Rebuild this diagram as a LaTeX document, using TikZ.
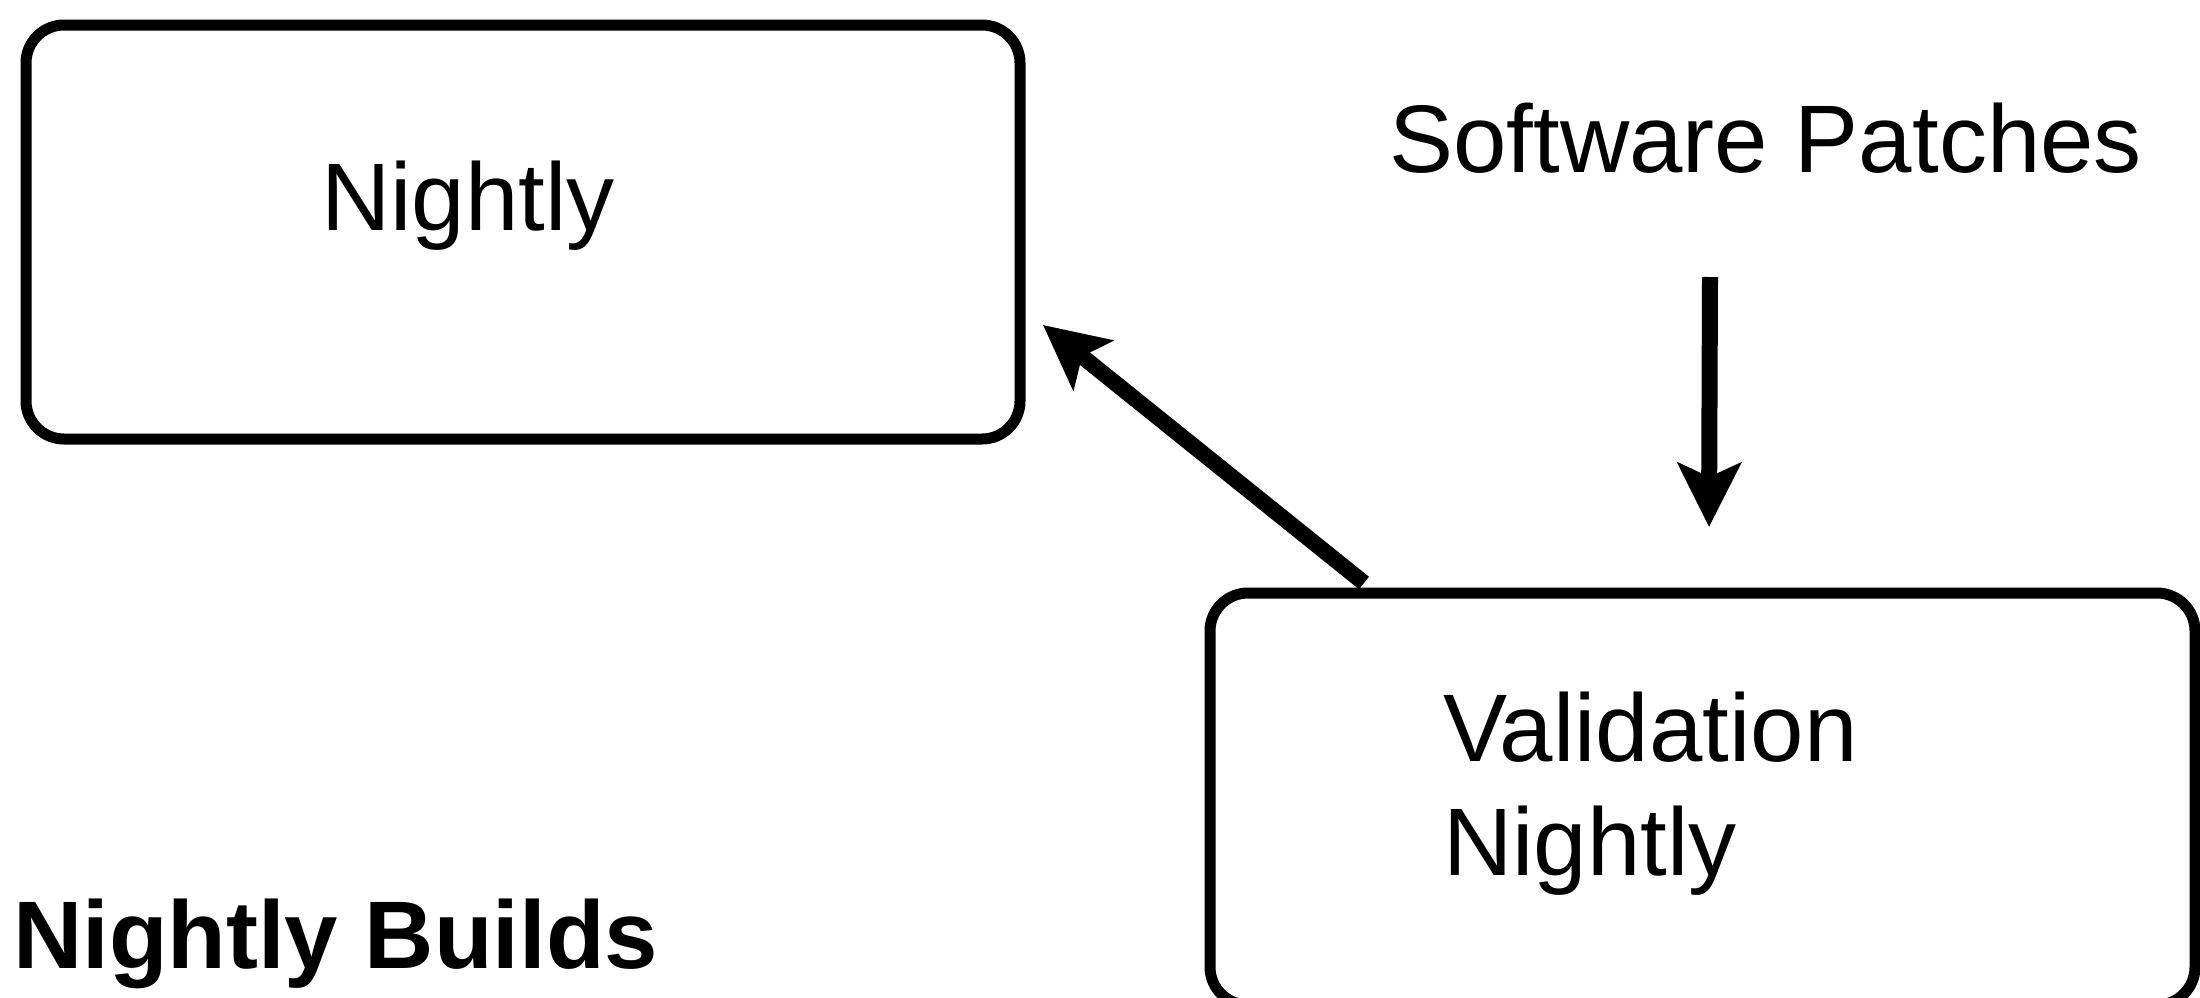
\documentclass[tikz,border=0pt]{standalone}
\usepackage{fontspec}
\setmainfont{Liberation Sans}
\usetikzlibrary{arrows.meta}
\tikzset{
  boxnode/.style={draw=black, line width=11pt, rounded corners=38pt, inner sep=0pt, minimum width=994pt, minimum height=414pt},
  lbl/.style={anchor=base west, inner sep=0pt, outer sep=0pt, font=\fontsize{96}{114}\selectfont},
  bigarrow/.style={draw=black, line width=16pt, -{Stealth[length=64pt, width=63pt, inset=14pt]}}
}
\begin{document}
\begin{tikzpicture}[x=1pt, y=-1pt]
\useasboundingbox (0,0) rectangle (2200,997);
\begin{scope}
\clip (0,0) rectangle (2200,997);
\node[boxnode] (nightlybox) at (523,232) {};
\node[boxnode, minimum width=985pt, minimum height=412pt] (validbox) at (1702.5,799) {};
\end{scope}
\node[lbl] (nightlytext) at (321,230) {Nightly};
\node[lbl] (patches) at (1389.5,172) {Software Patches};
\node[lbl, align=left] (validtext) at (1443,875) {Validation\\Nightly};
\node[lbl, font=\fontsize{96}{114}\selectfont\bfseries] (title) at (13,968) {Nightly Builds};
\coordinate (patchstart) at (1710,277);
\coordinate (patchend) at (1709,527);
\coordinate (validstart) at (1364,583);
\coordinate (nightlyend) at (1043,325);
\draw[bigarrow] (patchstart) -- (patchend);
\draw[bigarrow] (validstart) -- (nightlyend);
\end{tikzpicture}
\end{document}
